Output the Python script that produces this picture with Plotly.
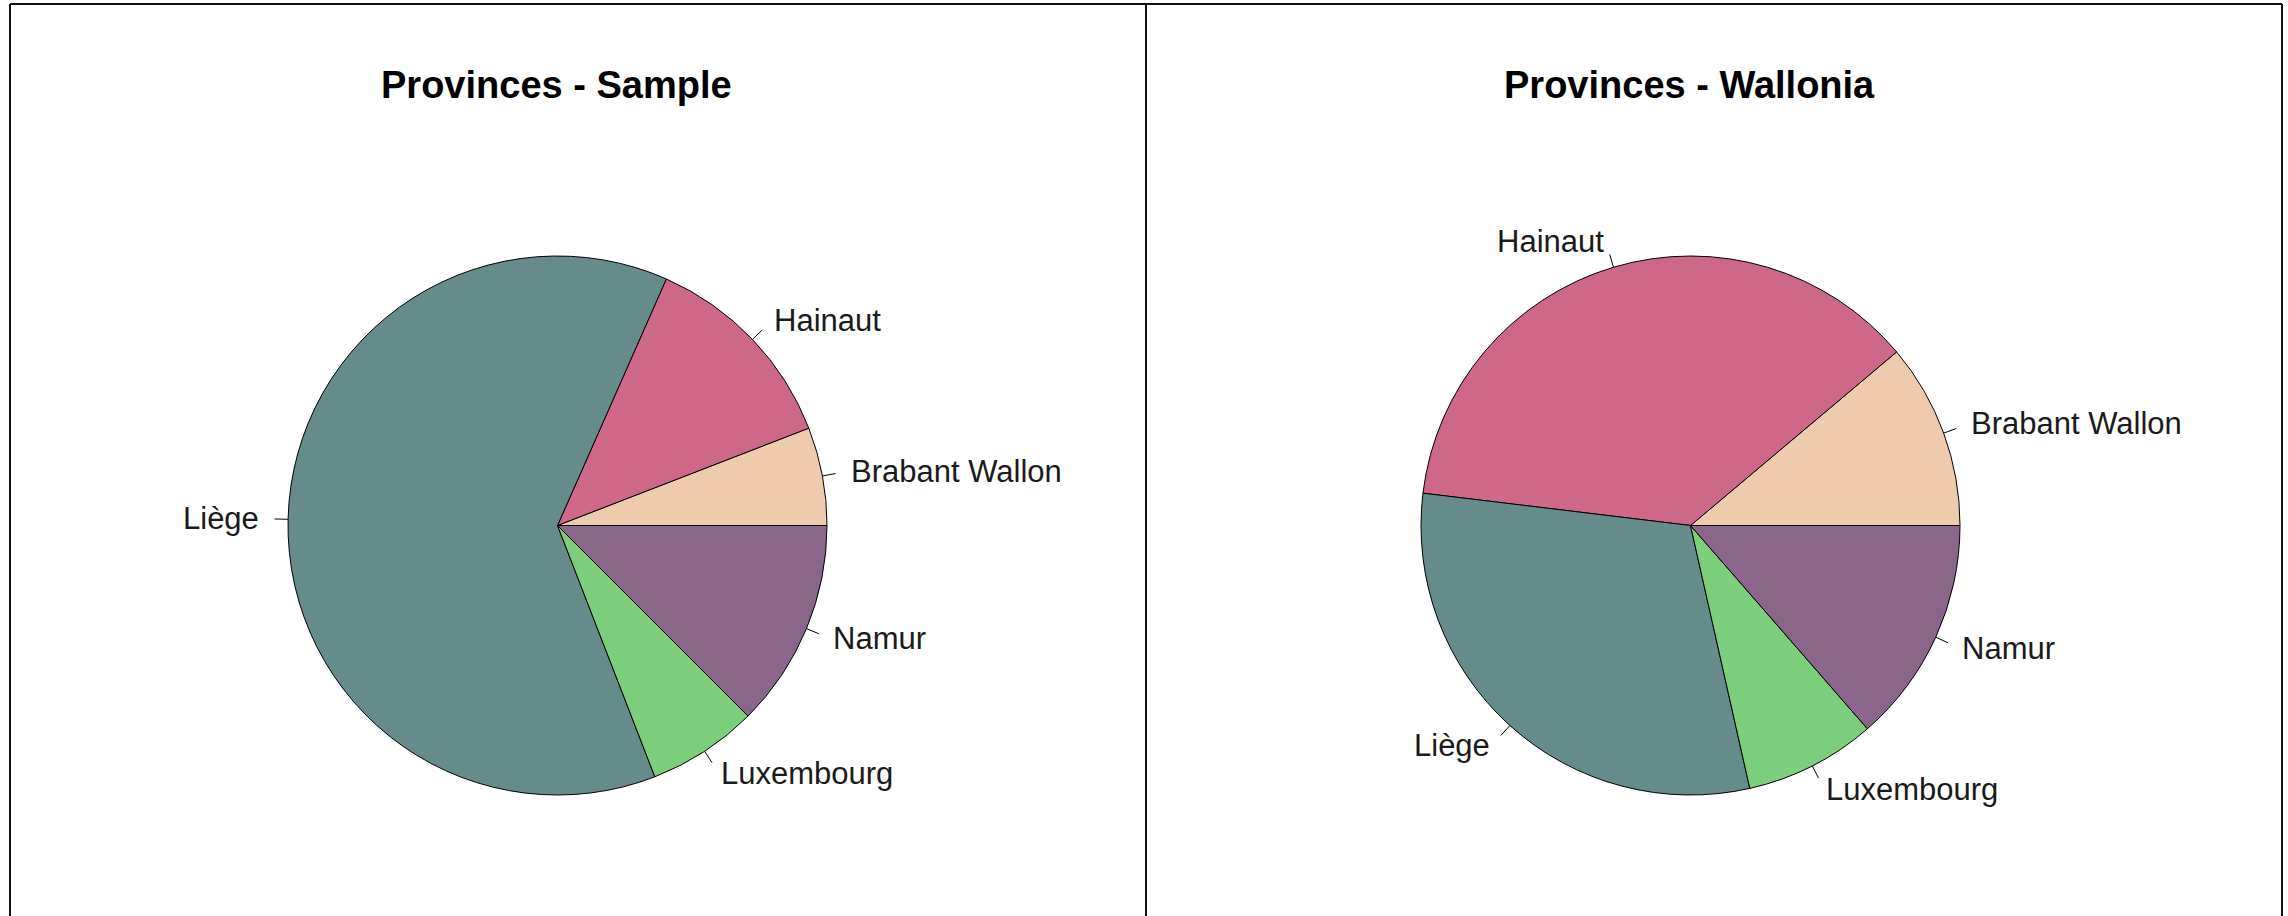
import numpy as np
import plotly.graph_objects as go

# ---- data ----
provinces = ["Brabant Wallon", "Hainaut", "Liège", "Luxembourg", "Namur"]
sample_counts = [8, 17, 85, 9, 17]
wallonia_population = [406019, 1346840, 1109800, 286752, 495832]
slice_colors = ["#EECBAD", "#CD6889", "#668B8B", "#7CCD7C", "#8B668B"]
panel_titles = ["Provinces - Sample", "Provinces - Wallonia"]

# ---- layout geometry (pixels) ----
W, H = 2288, 916
R = 269.5
centers = [(557.5, 525.5), (1690.5, 525.5)]
title_y = 85
FONT = "Arial, 'Liberation Sans', sans-serif"

fig = go.Figure()
annotations = []
shapes = []


def px2paper(x, y):
    return x / W, 1 - y / H


for (cx, cy), values, title in zip(centers, [sample_counts, wallonia_population], panel_titles):
    x0, y1 = px2paper(cx - R, cy - R)
    x1, y0 = px2paper(cx + R, cy + R)
    v = np.array(values, dtype=float)
    frac = v / v.sum()
    # R's pie: first slice starts at 3 o'clock and runs counterclockwise
    fig.add_trace(go.Pie(
        labels=provinces,
        values=values,
        sort=False,
        direction="counterclockwise",
        rotation=90 - 360 * frac[0],
        marker=dict(colors=slice_colors, line=dict(color="black", width=1)),
        textinfo="none",
        hoverinfo="label+value+percent",
        domain=dict(x=[x0, x1], y=[y0, y1]),
        showlegend=False,
    ))
    # R-style labels: tick from r to 1.05r, text at 1.1r
    cum = np.concatenate([[0], np.cumsum(frac)])
    mids = (cum[:-1] + cum[1:]) / 2 * 2 * np.pi
    for lab, a in zip(provinces, mids):
        ca, sa = np.cos(a), np.sin(a)
        ax0, ay0 = px2paper(cx + R * ca, cy - R * sa)
        ax1, ay1 = px2paper(cx + 1.05 * R * ca, cy - 1.05 * R * sa)
        shapes.append(dict(type="line", xref="paper", yref="paper",
                           x0=ax0, y0=ay0, x1=ax1, y1=ay1,
                           line=dict(color="black", width=1)))
        tx, ty = px2paper(cx + 1.1 * R * ca, cy - 1.1 * R * sa)
        annotations.append(dict(
            x=tx, y=ty, xref="paper", yref="paper", text=lab, showarrow=False,
            xanchor="left" if ca > 0 else "right", yanchor="middle",
            font=dict(family=FONT, size=31, color="#1a1a1a")))
    tx, ty = px2paper(cx - 1, title_y)
    annotations.append(dict(
        x=tx, y=ty, xref="paper", yref="paper", text="<b>" + title + "</b>",
        showarrow=False, xanchor="center", yanchor="middle",
        font=dict(family=FONT, size=38, color="black")))

# panel frame lines
for (xa, ya, xb, yb) in [(10, 4, 10, 940), (10, 4, 2282, 4),
                         (1146, 4, 1146, 940), (2282, 4, 2282, 940)]:
    p0 = px2paper(xa, ya)
    p1 = px2paper(xb, yb)
    shapes.append(dict(type="line", xref="paper", yref="paper",
                       x0=p0[0], y0=p0[1], x1=p1[0], y1=p1[1],
                       line=dict(color="#111111", width=2)))

fig.update_layout(
    width=W, height=H, autosize=False,
    margin=dict(l=0, r=0, t=0, b=0),
    paper_bgcolor="white", plot_bgcolor="white",
    annotations=annotations, shapes=shapes,
    font=dict(family=FONT),
)

fig.write_html("out.html",
               config={"displayModeBar": False},
               post_script="document.body.style.margin='0';document.body.style.overflow='hidden';")
